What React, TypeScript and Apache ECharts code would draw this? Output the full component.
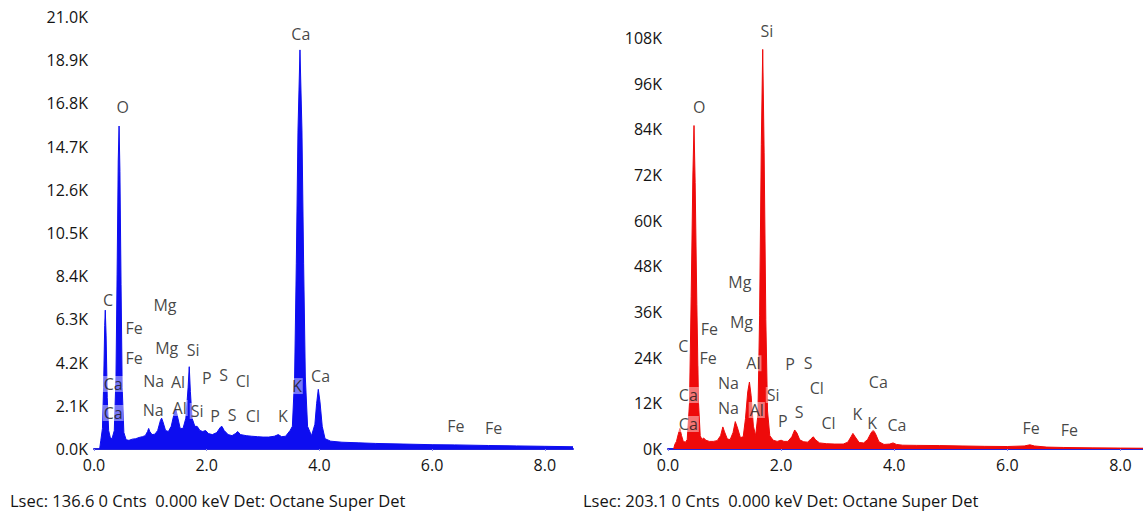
import React, { useEffect, useRef } from "react";
import * as echarts from "echarts";

// ---- Left spectrum (blue) ----
const leftKeV = [
  0.10, 0.12, 0.15, 0.17, 0.19, 0.20, 0.215, 0.235, 0.26, 0.29, 0.32,
  0.36, 0.39, 0.41, 0.43, 0.445, 0.46, 0.48, 0.50, 0.53, 0.57, 0.62, 0.68,
  0.74, 0.80, 0.86, 0.91, 0.95, 0.97, 0.99, 1.03, 1.08, 1.13, 1.18, 1.20,
  1.22, 1.27, 1.32, 1.37, 1.42, 1.45, 1.48, 1.53, 1.58, 1.63, 1.67, 1.69,
  1.71, 1.74, 1.79, 1.83, 1.88, 1.93, 1.98, 2.03, 2.10, 2.18, 2.24, 2.27,
  2.31, 2.38, 2.45, 2.51, 2.55, 2.60, 2.70, 2.80, 2.90, 3.00, 3.10, 3.20,
  3.27, 3.33, 3.40, 3.48, 3.52, 3.56, 3.59, 3.62, 3.655, 3.69, 3.72, 3.75,
  3.79, 3.86, 3.92, 3.95, 3.98, 4.01, 4.05, 4.10, 4.20, 4.40, 4.70, 5.00,
  5.50, 6.00, 6.40, 7.00, 7.50, 8.00, 8.50,
];
const leftCounts = [
  0, 400, 1000, 3000, 6000, 6750, 5500, 2500, 900, 550, 500,
  900, 3500, 8500, 14000, 15700, 13500, 8000, 3000, 800, 450, 420, 480,
  500, 560, 600, 650, 850, 1000, 850, 700, 720, 900, 1400, 1500,
  1350, 900, 850, 1100, 1700, 1950, 1600, 1000, 1000, 1500, 3000, 4000,
  2800, 1500, 1100, 1100, 900, 850, 900, 750, 700, 800, 1050, 1100,
  900, 700, 650, 750, 850, 700, 650, 620, 600, 580, 580, 620,
  700, 600, 620, 900, 1100, 3500, 9000, 15500, 19400, 15500, 9000, 3500,
  1100, 650, 1200, 2200, 2900, 2300, 1100, 500, 380, 330, 300, 270,
  240, 210, 200, 170, 150, 130, 110,
];

// ---- Right spectrum (red) ----
const rightKeV = [
  0.10, 0.12, 0.15, 0.18, 0.21, 0.24, 0.27, 0.31, 0.34, 0.38, 0.41, 0.44,
  0.46, 0.48, 0.51, 0.54, 0.57, 0.60, 0.63, 0.67, 0.73, 0.80, 0.87, 0.93,
  0.97, 1.00, 1.05, 1.10, 1.15, 1.19, 1.23, 1.28, 1.33, 1.37, 1.41, 1.44,
  1.47, 1.51, 1.55, 1.59, 1.62, 1.65, 1.675, 1.70, 1.73, 1.76, 1.80, 1.86,
  1.93, 2.00, 2.05, 2.12, 2.19, 2.24, 2.28, 2.33, 2.40, 2.47, 2.53, 2.57,
  2.61, 2.68, 2.80, 2.95, 3.10, 3.18, 3.24, 3.27, 3.31, 3.38, 3.46, 3.53,
  3.59, 3.63, 3.67, 3.73, 3.82, 3.92, 3.98, 4.04, 4.15, 4.40, 4.80, 5.20,
  5.60, 6.00, 6.30, 6.40, 6.48, 6.70, 7.00, 7.50, 8.00, 8.40,
];
const rightCounts = [
  0, 1200, 2000, 3800, 5400, 3500, 2000, 1800, 2500, 12000, 40000, 72000,
  85000, 70000, 38000, 12000, 3500, 2500, 2900, 2300, 2000, 2000, 2200, 3500,
  5800, 4500, 2600, 2500, 4300, 7200, 5500, 3000, 3200, 8000, 15000, 17600,
  14000, 6000, 3500, 9000, 35000, 80000, 105000, 78000, 34000, 10000, 3500, 2300,
  2000, 2300, 2000, 2000, 3200, 5000, 4200, 2400, 1900, 1800, 2700, 3200,
  2400, 1600, 1400, 1300, 1300, 1800, 3300, 4100, 3200, 1700, 1600, 2500,
  4200, 5000, 4000, 1900, 1200, 1300, 1600, 1200, 1000, 950, 900, 800,
  700, 650, 800, 1100, 800, 500, 400, 300, 250, 200,
];

// ---- Element labels ----
const leftLabelNames = [
  "Ca", "O", "C", "Mg", "Fe", "Mg", "Si", "Fe", "Na", "Al", "P", "S", "Cl",
  "Ca", "K", "Ca", "Ca", "Na", "Al", "Si", "P", "S", "Cl", "K", "Fe", "Fe",
];
const leftLabelKeV = [
  3.67, 0.51, 0.25, 1.26, 0.71, 1.29, 1.76, 0.71, 1.06, 1.49, 2.0, 2.3, 2.64,
  4.02, 3.6, 0.34, 0.34, 1.05, 1.52, 1.83, 2.15, 2.45, 2.82, 3.35, 6.42, 7.09,
];
const leftLabelCounts = [
  20170, 16620, 7240, 7000, 5880, 4910, 4810, 4420, 3300, 3260, 3450, 3600, 3300,
  3550, 3060, 3160, 1750, 1900, 1990, 1850, 1600, 1650, 1600, 1600, 1120, 1020,
];

const rightLabelNames = [
  "Si", "O", "Mg", "Mg", "Fe", "C", "Fe", "Al", "P", "S", "Na", "Cl", "Ca",
  "Ca", "Si", "Na", "Al", "S", "K", "P", "Cl", "K", "Ca", "Ca", "Fe", "Fe",
];
const rightLabelKeV = [
  1.75, 0.55, 1.27, 1.30, 0.73, 0.27, 0.71, 1.51, 2.16, 2.48, 1.07, 2.63, 3.72,
  0.36, 1.86, 1.07, 1.57, 2.32, 3.35, 2.03, 2.84, 3.61, 4.05, 0.36, 6.42, 7.10,
];
const rightLabelCounts = [
  109850, 89880, 43970, 33450, 31460, 27070, 23840, 22520, 22340, 22520, 17270, 16110, 17690,
  14190, 14190, 10700, 10250, 9800, 9200, 7440, 6750, 6750, 6310, 6570, 5520, 4990,
];

const xTickValues = [0, 2, 4, 6, 8];
const leftFooter = "Lsec: 136.6 0 Cnts  0.000 keV Det: Octane Super Det";
const rightFooter = "Lsec: 203.1 0 Cnts  0.000 keV Det: Octane Super Det";

const FONT = "'Open Sans', 'Noto Sans', sans-serif";
const TEXT = "#141414";
const BLUE = "#0d0df0";
const RED = "#ee0a0a";
const AXIS_BLUE = "#2323dc";

function zip(a: number[], b: number[]) {
  return a.map((v, i) => [v, b[i]]);
}

function labelData(names: string[], xs: number[], ys: number[]) {
  return names.map((n, i) => ({ name: n, value: [xs[i], ys[i]] }));
}

export default function App() {
  const ref = useRef<HTMLDivElement>(null);

  useEffect(() => {
    if (!ref.current) return;
    const chart = echarts.init(ref.current, undefined, { renderer: "svg" });

    const xAxisCommon = (max: number) => ({
      type: "value" as const,
      min: 0,
      max,
      offset: 2,
      splitLine: { show: false },
      axisLine: { show: true, lineStyle: { color: AXIS_BLUE, width: 2 } },
      axisTick: {
        show: true,
        length: 2,
        customValues: xTickValues,
        lineStyle: { color: "#8a8ae8" },
      },
      axisLabel: {
        customValues: xTickValues,
        formatter: (v: number) => v.toFixed(1),
        color: TEXT,
        fontSize: 16,
        fontFamily: FONT,
        margin: 6,
      },
    });

    const labelStyle = {
      show: true,
      position: "inside" as const,
      formatter: "{b}",
      color: TEXT,
      fontSize: 16,
      fontFamily: FONT,
      backgroundColor: "rgba(255,255,255,0.55)",
      padding: [0, 1],
    };

    const yLabel = {
      color: TEXT,
      fontSize: 16,
      fontFamily: FONT,
      margin: 6,
    };

    chart.setOption({
      animation: false,
      backgroundColor: "#ffffff",
      grid: [
        { left: 94, width: 479, top: 17, bottom: 68 },
        { left: 668, right: 0, top: 38, bottom: 68 },
      ],
      xAxis: [
        { gridIndex: 0, ...xAxisCommon(8.5) },
        { gridIndex: 1, ...xAxisCommon(8.4) },
      ],
      yAxis: [
        {
          gridIndex: 0,
          type: "value",
          min: 0,
          max: 21000,
          interval: 2100,
          splitLine: { show: false },
          axisLine: { show: false },
          axisTick: { show: false },
          axisLabel: {
            ...yLabel,
            formatter: (v: number) => (v / 1000).toFixed(1) + "K",
          },
        },
        {
          gridIndex: 1,
          type: "value",
          min: 0,
          max: 108000,
          interval: 12000,
          splitLine: { show: false },
          axisLine: { show: false },
          axisTick: { show: false },
          axisLabel: {
            ...yLabel,
            formatter: (v: number) => Math.round(v / 1000) + "K",
          },
        },
      ],
      series: [
        {
          type: "line",
          xAxisIndex: 0,
          yAxisIndex: 0,
          data: zip(leftKeV, leftCounts),
          symbol: "none",
          lineStyle: { color: BLUE, width: 1 },
          areaStyle: { color: BLUE, opacity: 1 },
          z: 2,
        },
        {
          type: "scatter",
          xAxisIndex: 0,
          yAxisIndex: 0,
          data: labelData(leftLabelNames, leftLabelKeV, leftLabelCounts),
          symbolSize: 1,
          itemStyle: { color: "rgba(0,0,0,0)" },
          label: labelStyle,
          clip: false,
          z: 10,
        },
        {
          type: "line",
          xAxisIndex: 1,
          yAxisIndex: 1,
          data: zip(rightKeV, rightCounts),
          symbol: "none",
          lineStyle: { color: RED, width: 1 },
          areaStyle: { color: RED, opacity: 1 },
          z: 2,
        },
        {
          type: "scatter",
          xAxisIndex: 1,
          yAxisIndex: 1,
          data: labelData(rightLabelNames, rightLabelKeV, rightLabelCounts),
          symbolSize: 1,
          itemStyle: { color: "rgba(0,0,0,0)" },
          label: labelStyle,
          clip: false,
          z: 10,
        },
      ],
      graphic: [
        {
          type: "text",
          left: 10,
          top: 492,
          style: { text: leftFooter, fill: TEXT, fontSize: 16.5, fontFamily: FONT },
        },
        {
          type: "text",
          left: 583,
          top: 492,
          style: { text: rightFooter, fill: TEXT, fontSize: 16.5, fontFamily: FONT },
        },
      ],
    });

    return () => chart.dispose();
  }, []);

  return (
    <div
      ref={ref}
      style={{ position: "absolute", left: 0, top: 0, width: 1143, height: 517 }}
    />
  );
}
